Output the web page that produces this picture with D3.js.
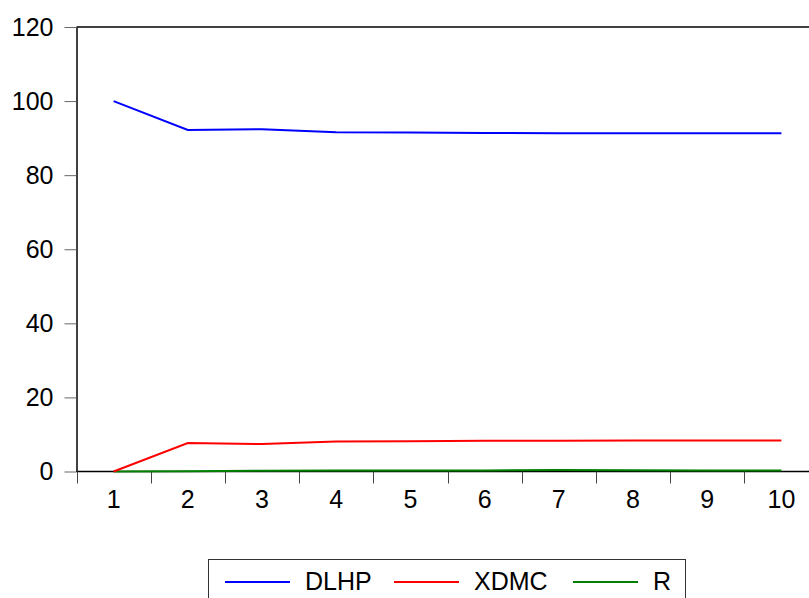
<!DOCTYPE html>
<html>
<head>
<meta charset="utf-8">
<script src="https://cdn.jsdelivr.net/npm/d3@7"></script>
<style>
  body { margin: 0; background: #fff; }
  svg { display: block; font-family: "Liberation Sans", Arial, sans-serif; }
</style>
</head>
<body>
<div id="chart"></div>
<script>
// periods and variance decomposition shares
const periods = ["1", "2", "3", "4", "5", "6", "7", "8", "9", "10"]
const dlhp = [100, 92.2, 92.4, 91.6, 91.5, 91.4, 91.3, 91.3, 91.3, 91.3]
const xdmc = [0, 7.7, 7.4, 8.1, 8.2, 8.3, 8.3, 8.35, 8.4, 8.4]
const rr = [0, 0.1, 0.2, 0.3, 0.3, 0.3, 0.4, 0.35, 0.3, 0.3]
const yTicks = [0, 20, 40, 60, 80, 100, 120]
const seriesNames = ["DLHP", "XDMC", "R"]
const seriesColors = ["#0000ff", "#ff0000", "#008000"]

const WIDTH = 809, HEIGHT = 598
const MARGIN = { top: 27, left: 76.5, bottom: 471.5 }
const FONT = "25px"

const svg = d3.select("#chart").append("svg")
  .attr("width", WIDTH)
  .attr("height", HEIGHT)

const x = d3.scaleBand()
  .domain(periods)
  .range([MARGIN.left, MARGIN.left + 74.2 * 10])
  .padding(0)

const y = d3.scaleLinear()
  .domain([0, 120])
  .range([MARGIN.bottom, MARGIN.top])

// top border
svg.append("line")
  .attr("x1", MARGIN.left).attr("x2", WIDTH)
  .attr("y1", MARGIN.top).attr("y2", MARGIN.top)
  .attr("stroke", "#000").attr("stroke-width", 1.5)

// y axis
const yAxis = svg.append("g")
  .attr("transform", `translate(${MARGIN.left},0)`)
  .call(d3.axisLeft(y).tickValues(yTicks).tickSize(12).tickPadding(11).tickSizeOuter(0))
yAxis.select(".domain").attr("stroke", "#000").attr("stroke-width", 1.5)
yAxis.selectAll(".tick line").attr("stroke", "#666")
yAxis.selectAll("text")
  .attr("font-size", FONT)
  .attr("font-family", "Liberation Sans, Arial, sans-serif")
  .attr("fill", "#000")

// x axis (labels centred in each band)
const xAxis = svg.append("g")
  .attr("transform", `translate(0,${MARGIN.bottom})`)
  .call(d3.axisBottom(x).tickSize(0).tickPadding(19).tickSizeOuter(0))
xAxis.select(".domain").remove()
xAxis.selectAll("text")
  .attr("font-size", FONT)
  .attr("font-family", "Liberation Sans, Arial, sans-serif")
  .attr("fill", "#000")

svg.append("line")
  .attr("x1", MARGIN.left).attr("x2", WIDTH)
  .attr("y1", MARGIN.bottom).attr("y2", MARGIN.bottom)
  .attr("stroke", "#000").attr("stroke-width", 1.5)

// separators between periods
svg.selectAll(".sep")
  .data(periods)
  .enter().append("line")
  .attr("class", "sep")
  .attr("x1", d => Math.round(x(d)) + 0.5)
  .attr("x2", d => Math.round(x(d)) + 0.5)
  .attr("y1", MARGIN.bottom)
  .attr("y2", MARGIN.bottom + 12)
  .attr("stroke", "#444")
  .attr("stroke-width", 1)

// lines
const line = d3.line()
  .x((d, i) => x(periods[i]) + x.bandwidth() / 2)
  .y(d => y(d))

const allSeries = [dlhp, xdmc, rr]
svg.selectAll(".series")
  .data(allSeries.slice().reverse())
  .enter().append("path")
  .attr("class", "series")
  .attr("fill", "none")
  .attr("stroke", (d, i) => seriesColors[2 - i])
  .attr("stroke-width", 2)
  .attr("d", line)

// legend
const legend = svg.append("g")
legend.append("rect")
  .attr("x", 208.5).attr("y", 559.5)
  .attr("width", 477).attr("height", 60)
  .attr("fill", "#fff")
  .attr("stroke", "#333").attr("stroke-width", 1)

const legendX = [225, 394, 573]
seriesNames.forEach((name, i) => {
  legend.append("line")
    .attr("x1", legendX[i]).attr("x2", legendX[i] + 65)
    .attr("y1", 582).attr("y2", 582)
    .attr("stroke", seriesColors[i]).attr("stroke-width", 2)
  legend.append("text")
    .attr("x", legendX[i] + 80)
    .attr("y", 590)
    .attr("font-size", FONT)
    .attr("fill", "#000")
    .text(name)
})
</script>
</body>
</html>
